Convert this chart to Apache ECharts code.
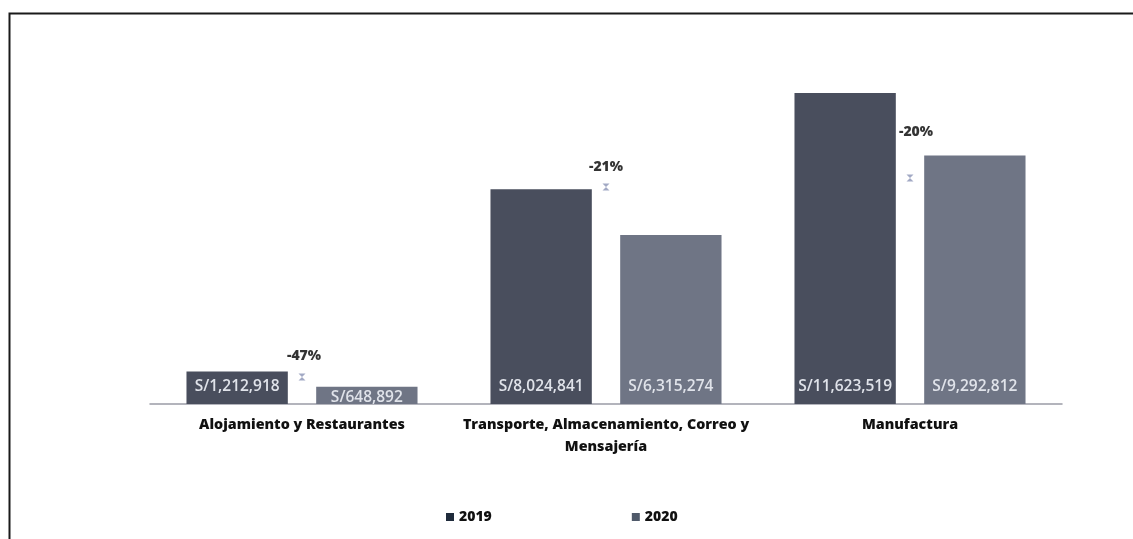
<!DOCTYPE html>
<html><head><meta charset="utf-8">
<script src="https://cdn.jsdelivr.net/npm/echarts@6/dist/echarts.min.js"></script>
<style>html,body{margin:0;padding:0;background:#fff}#c{width:1133px;height:539px}</style>
</head><body><div id="c"></div>
<script>
const categories = ['Alojamiento y Restaurantes', 'Transporte, Almacenamiento, Correo y\nMensajería', 'Manufactura'];
const values2019 = [1212918, 8024841, 11623519];
const values2020 = [648892, 6315274, 9292812];
const changeLabels = ['-47%', '-21%', '-20%'];
const markerValues = [1010000, 8110000, 8450000];
const seriesNames = ['2019', '2020'];

const fmt = v => 'S/' + v.toLocaleString('en-US');
const labelOffsets = [[2, -21], [0, -20], [6, -46]];

const chart = echarts.init(document.getElementById('c'));
chart.setOption({
  animation: false,
  backgroundColor: '#ffffff',
  graphic: [{
    type: 'rect', left: 7, top: 11,
    shape: { width: 1140, height: 540 },
    style: { fill: 'none', stroke: '#1a1a1a', lineWidth: 2 }, silent: true
  }],
  grid: { left: 150, right: 71, top: 83, bottom: 135 },
  legend: {
    bottom: 10, left: 441,
    itemWidth: 8, itemHeight: 8, itemGap: 140,
    textStyle: { color: '#111', fontWeight: 800, fontSize: 14, fontFamily: 'Open Sans' },
    data: [
      { name: seriesNames[0], icon: 'rect', itemStyle: { color: '#1f2b3b' } },
      { name: seriesNames[1], icon: 'rect', itemStyle: { color: '#505a6a' } }
    ]
  },
  xAxis: {
    type: 'category', data: categories,
    axisLine: { lineStyle: { color: '#9a9ca6', width: 1.5 } },
    axisTick: { show: false },
    axisLabel: { color: '#111', fontWeight: 800, fontSize: 14.3, fontFamily: 'Open Sans', margin: 10, lineHeight: 22, interval: 0 }
  },
  yAxis: { type: 'value', min: 0, max: 12000000, show: false, splitLine: { show: false } },
  series: [
    {
      name: seriesNames[0], type: 'bar', data: values2019,
      barGap: '28%', barCategoryGap: '24%',
      itemStyle: { color: '#494e5d' },
      label: { show: true, position: 'insideBottom', distance: 9, color: '#e0e3ea', fontSize: 15.5, fontWeight: 600, fontFamily: 'Open Sans', formatter: p => fmt(p.value) }
    },
    {
      name: seriesNames[1], type: 'bar',
      data: values2020.map((v, i) => i === 0 ? { value: v, label: { offset: [0, 11] } } : v),
      itemStyle: { color: '#6f7585' },
      label: { show: true, position: 'insideBottom', distance: 9, color: '#e0e3ea', fontSize: 15.5, fontWeight: 600, fontFamily: 'Open Sans', formatter: p => fmt(p.value) }
    },
    {
      name: 'cambio', type: 'scatter',
      data: markerValues.map((v, i) => ({ value: v, label: { offset: labelOffsets[i] } })),
      symbol: 'path://M0,0 L10,0 L0,10 L10,10 Z', symbolSize: [7, 7],
      itemStyle: { color: '#8b93b5' },
      label: { show: true, position: 'inside', color: '#000', fontWeight: 800, fontSize: 14, fontFamily: 'Open Sans', formatter: p => changeLabels[p.dataIndex] },
      z: 5
    }
  ]
});
</script>
</body></html>
